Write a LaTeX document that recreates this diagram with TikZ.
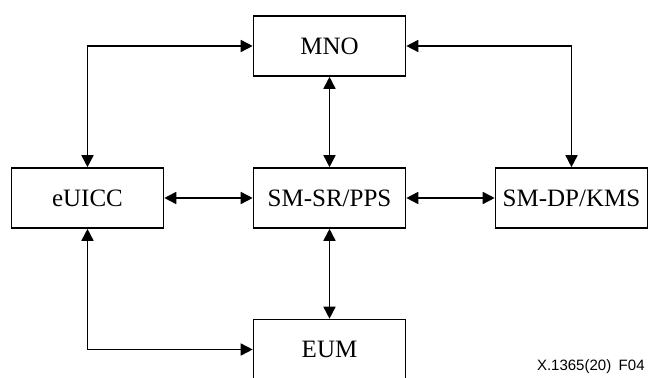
\documentclass[tikz,border=0pt]{standalone}
\usepackage{fontspec}
\setmainfont{Liberation Serif}
\newfontfamily\labelfont{Liberation Sans}
\usetikzlibrary{arrows.meta, positioning}

\begin{document}
\begin{tikzpicture}[x=0.5pt, y=-0.5pt,
    entity/.style={draw, line width=0.8pt, minimum width=76pt, minimum height=30pt, inner sep=0pt, font=\fontsize{12.5}{15}\selectfont},
    link/.style={{Triangle[length=6pt,width=6pt]}-{Triangle[length=6pt,width=6pt]}, line width=0.8pt}]
    % frame of the figure
    \clip (0,0) rectangle (648,378);

    % Entities
    \node[entity] (mno) at (329.5,46) {MNO};
    \node[entity] (euicc) at (87.5,198) {eUICC};
    \node[entity] (smsr) at (329.5,198) {SM-SR/PPS};
    \node[entity] (smdp) at (571.5,198) {SM-DP/KMS};
    \node[entity] (eum) at (329.5,349.5) {EUM};

    % Interfaces
    \draw[link] (euicc.north) |- (mno.west);
    \draw[link] (smdp.north) |- (mno.east);
    \draw[link] (mno.south) -- (smsr.north);
    \draw[link] (euicc.east) -- (smsr.west);
    \draw[link] (smsr.east) -- (smdp.west);
    \draw[link] (smsr.south) -- (eum.north);
    \draw[link] (euicc.south) |- (eum.west);

    % Figure number
    \node[anchor=base east, inner sep=0pt, font=\labelfont\fontsize{7.5}{9}\selectfont] (fignum) at (645,371) {X.1365(20)\enspace F04};
\end{tikzpicture}
\end{document}
